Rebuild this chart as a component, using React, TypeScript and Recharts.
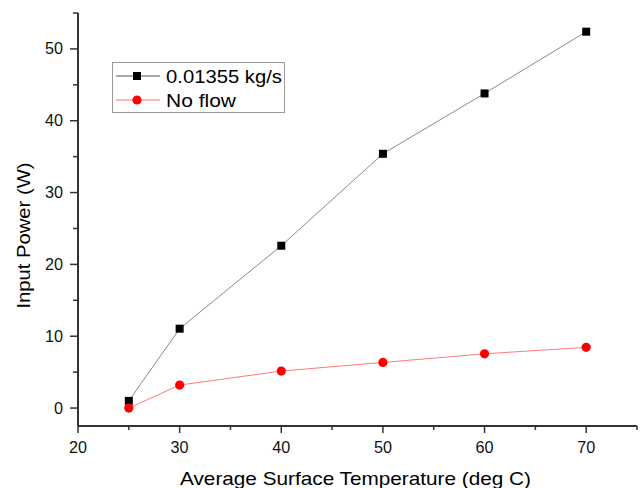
import React from 'react';
import { LineChart, Line, XAxis, YAxis } from 'recharts';

const temperatures = [25, 30, 40, 50, 60, 70];
const flowPower = [1.0, 11.05, 22.6, 35.4, 43.8, 52.4];
const noFlowPower = [0.0, 3.2, 5.15, 6.35, 7.55, 8.45];
const xTicks = [20, 25, 30, 35, 40, 45, 50, 55, 60, 65, 70, 75];
const yTicks = [0, 5, 10, 15, 20, 25, 30, 35, 40, 45, 50, 55];
const seriesNames = ['0.01355 kg/s', 'No flow'];

const data = temperatures.map((t, i) => ({ t, flow: flowPower[i], noflow: noFlowPower[i] }));

const FONT = '"Liberation Sans", Arial, sans-serif';
const AXIS_COLOR = '#333333';

const SquareDot = (props: any) => {
  const { cx, cy } = props;
  if (cx == null || cy == null) return null;
  return <rect x={cx - 4} y={cy - 4} width={8} height={8} fill="#000" />;
};
const CircleDot = (props: any) => {
  const { cx, cy } = props;
  if (cx == null || cy == null) return null;
  return <circle cx={cx} cy={cy} r={4.6} fill="#ff0000" />;
};

const labelLen = (v: number) => String(v).length * 9;

const YTick = (props: any) => {
  const { x, y, payload } = props;
  const v = payload.value;
  const major = v % 10 === 0;
  return (
    <g>
      <line x1={x - (major ? 8 : 5)} x2={x} y1={y} y2={y} stroke={AXIS_COLOR} strokeWidth={1.5} />
      {major && v <= 50 && (
        <text x={x - 15} y={y + 5.5} textAnchor="end" fontFamily={FONT} fontSize={16} fill="#111" textLength={labelLen(v)} lengthAdjust="spacingAndGlyphs">
          {v}
        </text>
      )}
    </g>
  );
};

const XTick = (props: any) => {
  const { x, y, payload } = props;
  const v = payload.value;
  const major = v % 10 === 0;
  return (
    <g>
      <line x1={x} x2={x} y1={y} y2={y + (major ? 7 : 4)} stroke={AXIS_COLOR} strokeWidth={1.5} />
      {major && (
        <text x={x} y={y + 26.5} textAnchor="middle" fontFamily={FONT} fontSize={16} fill="#111" textLength={labelLen(v)} lengthAdjust="spacingAndGlyphs">
          {v}
        </text>
      )}
    </g>
  );
};

const LegendBox = () => (
  <svg width={173} height={51} style={{ display: 'block' }}>
    <rect x={0.5} y={0.5} width={172} height={50} fill="#fff" stroke="#999" strokeWidth={1} />
    <line x1={4} x2={48} y1={14} y2={14} stroke="#555" strokeWidth={1} />
    <rect x={21} y={10} width={8} height={8} fill="#000" />
    <text x={54} y={21} fontFamily={FONT} fontSize={19} fill="#000" textLength={116} lengthAdjust="spacingAndGlyphs">
      {seriesNames[0]}
    </text>
    <line x1={4} x2={48} y1={38} y2={38} stroke="#ff7070" strokeWidth={1} />
    <circle cx={25} cy={38} r={4.6} fill="#ff0000" />
    <text x={54} y={45} fontFamily={FONT} fontSize={19} fill="#000" textLength={70} lengthAdjust="spacingAndGlyphs">
      {seriesNames[1]}
    </text>
  </svg>
);

const XTitle = (props: any) => {
  const { viewBox } = props;
  const cx = viewBox.x + viewBox.width / 2;
  return (
    <text x={cx - 2} y={485} textAnchor="middle" fontFamily={FONT} fontSize={19} fill="#000" textLength={351} lengthAdjust="spacingAndGlyphs">
      Average Surface Temperature (deg C)
    </text>
  );
};

const YTitle = () => (
  <text
    x={0}
    y={0}
    transform="translate(30,235.5) rotate(-90)"
    textAnchor="middle"
    fontFamily={FONT}
    fontSize={19}
    fill="#000"
    textLength={146}
    lengthAdjust="spacingAndGlyphs"
  >
    Input Power (W)
  </text>
);

export default function App() {
  return (
    <div style={{ position: 'absolute', left: 0, top: 0, width: 641, height: 488, background: '#fff' }}>
      <LineChart width={641} height={488} data={data} margin={{ top: 13, right: 4, left: 0, bottom: 0 }}>
        <XAxis
          dataKey="t"
          type="number"
          domain={[20, 75]}
          ticks={xTicks}
          interval={0}
          height={62}
          tickSize={0}
          tickMargin={0}
          tick={<XTick />}
          axisLine={{ stroke: AXIS_COLOR, strokeWidth: 2 }}
          tickLine={false}
          allowDataOverflow
          label={<XTitle />}
        />
        <YAxis
          type="number"
          domain={[-2.5, 55]}
          ticks={yTicks}
          interval={0}
          width={78}
          tickSize={0}
          tickMargin={0}
          tick={<YTick />}
          axisLine={{ stroke: AXIS_COLOR, strokeWidth: 2 }}
          tickLine={false}
          allowDataOverflow
          label={<YTitle />}
        />
        <Line
          dataKey="flow"
          stroke="#8a8a8a"
          strokeWidth={1}
          dot={<SquareDot />}
          activeDot={false}
          isAnimationActive={false}
        />
        <Line
          dataKey="noflow"
          stroke="#ff7a7a"
          strokeWidth={1}
          dot={<CircleDot />}
          activeDot={false}
          isAnimationActive={false}
        />
      </LineChart>
      <div style={{ position: 'absolute', left: 112, top: 62 }}>
        <LegendBox />
      </div>
    </div>
  );
}
